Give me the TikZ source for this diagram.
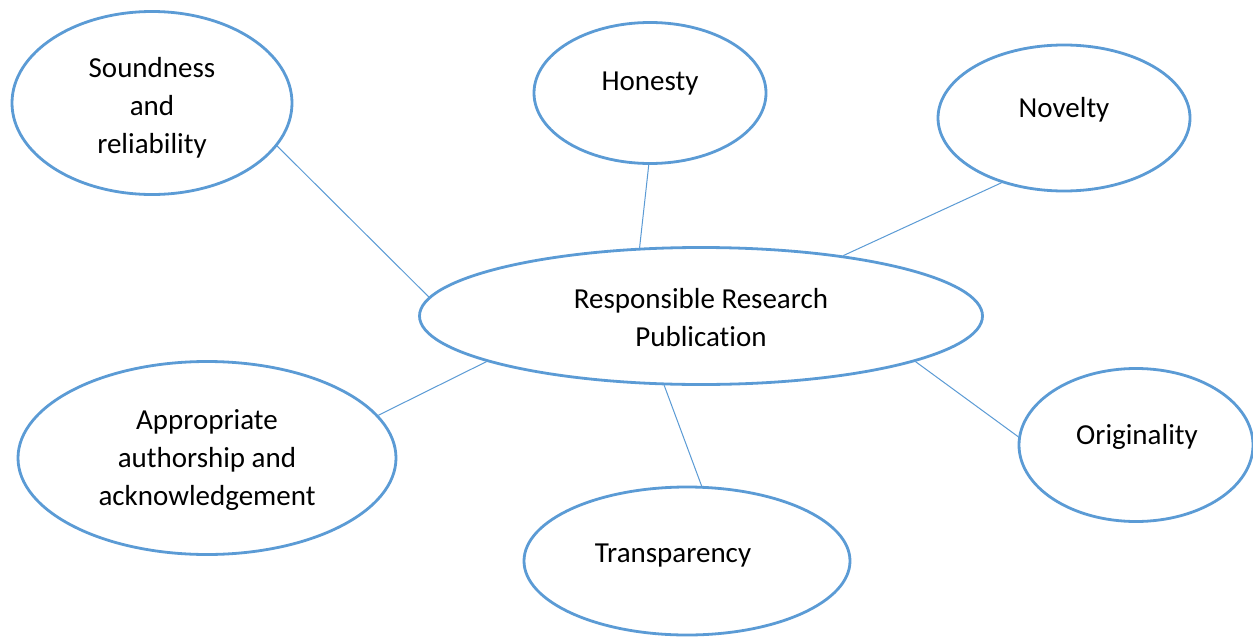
\documentclass[tikz,border=0pt]{standalone}
\usepackage{fontspec}
\setmainfont{Carlito}[Ligatures=NoCommon]
\usetikzlibrary{shapes.geometric}
\definecolor{bubble}{HTML}{5B9BD5}
\tikzset{
  bubble/.style={ellipse, draw=bubble, line width=2.8pt, fill=white, inner sep=0pt},
  caption/.style={align=center, font=\fontsize{29}{38}\selectfont, inner sep=0pt, text=black},
  link/.style={draw=bubble, line width=1pt},
}
\begin{document}
\begin{tikzpicture}[x=1pt,y=-1pt]
\useasboundingbox (0,0) rectangle (1253,637);
\fill[white] (0,0) rectangle (1253,637);

% ellipses
\node[bubble, minimum width=280pt, minimum height=183pt] (sound) at (152,103) {};
\node[bubble, minimum width=232pt, minimum height=141pt] (honest) at (650,93) {};
\node[bubble, minimum width=252pt, minimum height=146pt] (novel) at (1064,118) {};
\node[bubble, minimum width=563pt, minimum height=137pt] (core) at (701,316) {};
\node[bubble, minimum width=378pt, minimum height=193pt] (author) at (207,458) {};
\node[bubble, minimum width=234pt, minimum height=153pt] (orig) at (1136,445) {};
\node[bubble, minimum width=326pt, minimum height=148pt] (transp) at (687,561) {};

% labels
\node[caption] (sound-t) at (152,108) {Soundness\\and\\reliability};
\node[caption] (honest-t) at (650,84) {Honesty};
\node[caption] (novel-t) at (1064,110) {Novelty};
\node[caption] (core-t) at (701,318) {Responsible Research\\Publication};
\node[caption] (author-t) at (207,460) {Appropriate\\authorship and\\acknowledgement};
\node[caption] (orig-t) at (1137,437) {Originality};
\node[caption] (transp-t) at (673,556) {Transparency};

% connectors
\draw[link] (sound.-19.6) -- (core.176.7);
\draw[link] (honest.-91.6) -- (core.132.4);
\draw[link] (novel.-134.6) -- (core.23.8);
\draw[link] (author.14.2) -- (core.192.1);
\draw[link] (transp.79.1) -- (core.-118.2);
\draw[link] (orig.176.1) -- (core.-12.4);
\end{tikzpicture}
\end{document}
